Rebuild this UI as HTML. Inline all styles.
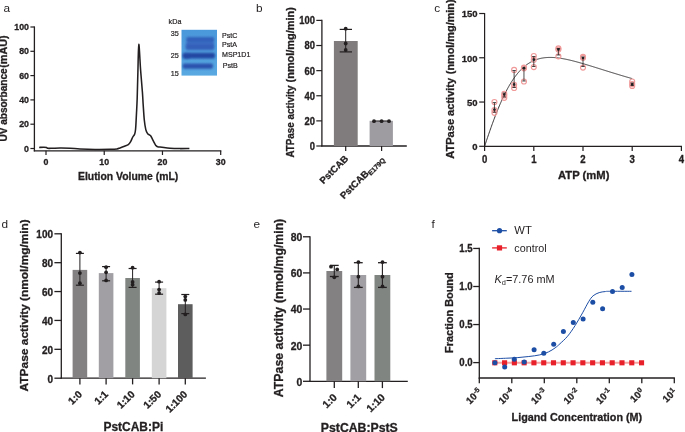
<!DOCTYPE html>
<html><head><meta charset="utf-8"><style>
html,body{margin:0;padding:0;background:#fff;}
svg{display:block;font-family:"Liberation Sans", sans-serif;filter:blur(0.3px);}
text[font-weight=bold]{stroke:#231f20;stroke-width:0.3px;}
</style></head><body>
<svg width="685" height="432" viewBox="0 0 685 432">
<rect width="685" height="432" fill="#fff"/>
<text x="3.60" y="12.30" font-size="11.8" text-anchor="start" font-weight="normal" fill="#231f20" >a</text>
<text x="256.00" y="12.20" font-size="11.8" text-anchor="start" font-weight="normal" fill="#231f20" >b</text>
<text x="434.30" y="12.30" font-size="11.8" text-anchor="start" font-weight="normal" fill="#231f20" >c</text>
<text x="1.40" y="228.30" font-size="11.8" text-anchor="start" font-weight="normal" fill="#231f20" >d</text>
<text x="253.40" y="228.30" font-size="11.8" text-anchor="start" font-weight="normal" fill="#231f20" >e</text>
<text x="431.50" y="228.00" font-size="11.8" text-anchor="start" font-weight="normal" fill="#231f20" >f</text>
<line x1="34.40" y1="26.40" x2="34.40" y2="151.40" stroke="#231f20" stroke-width="1.3" />
<line x1="33.80" y1="150.80" x2="221.30" y2="150.80" stroke="#231f20" stroke-width="1.3" />
<line x1="30.40" y1="148.50" x2="34.40" y2="148.50" stroke="#231f20" stroke-width="1.2" />
<text x="29.00" y="151.60" font-size="8.8" text-anchor="end" font-weight="bold" fill="#231f20" >0</text>
<line x1="30.40" y1="124.20" x2="34.40" y2="124.20" stroke="#231f20" stroke-width="1.2" />
<text x="29.00" y="127.30" font-size="8.8" text-anchor="end" font-weight="bold" fill="#231f20" >20</text>
<line x1="30.40" y1="99.90" x2="34.40" y2="99.90" stroke="#231f20" stroke-width="1.2" />
<text x="29.00" y="103.00" font-size="8.8" text-anchor="end" font-weight="bold" fill="#231f20" >40</text>
<line x1="30.40" y1="75.60" x2="34.40" y2="75.60" stroke="#231f20" stroke-width="1.2" />
<text x="29.00" y="78.70" font-size="8.8" text-anchor="end" font-weight="bold" fill="#231f20" >60</text>
<line x1="30.40" y1="51.30" x2="34.40" y2="51.30" stroke="#231f20" stroke-width="1.2" />
<text x="29.00" y="54.40" font-size="8.8" text-anchor="end" font-weight="bold" fill="#231f20" >80</text>
<line x1="30.40" y1="27.00" x2="34.40" y2="27.00" stroke="#231f20" stroke-width="1.2" />
<text x="29.00" y="30.10" font-size="8.8" text-anchor="end" font-weight="bold" fill="#231f20" >100</text>
<line x1="46.00" y1="150.80" x2="46.00" y2="155.00" stroke="#231f20" stroke-width="1.2" />
<text x="46.00" y="165.40" font-size="8.8" text-anchor="middle" font-weight="bold" fill="#231f20" >0</text>
<line x1="104.23" y1="150.80" x2="104.23" y2="155.00" stroke="#231f20" stroke-width="1.2" />
<text x="104.23" y="165.40" font-size="8.8" text-anchor="middle" font-weight="bold" fill="#231f20" >10</text>
<line x1="162.47" y1="150.80" x2="162.47" y2="155.00" stroke="#231f20" stroke-width="1.2" />
<text x="162.47" y="165.40" font-size="8.8" text-anchor="middle" font-weight="bold" fill="#231f20" >20</text>
<line x1="220.70" y1="150.80" x2="220.70" y2="155.00" stroke="#231f20" stroke-width="1.2" />
<text x="220.70" y="165.40" font-size="8.8" text-anchor="middle" font-weight="bold" fill="#231f20" >30</text>
<text x="78.00" y="180.40" font-size="10.4" font-weight="bold" fill="#231f20" textLength="100.20" lengthAdjust="spacingAndGlyphs">Elution Volume (mL)</text>
<text x="7.30" y="141.60" font-size="10.2" font-weight="bold" fill="#231f20" transform="rotate(-90 7.30 141.60)" textLength="73.20" lengthAdjust="spacingAndGlyphs">UV absorbance</text>
<text x="7.30" y="67.80" font-size="10.6" font-weight="bold" fill="#231f20" transform="rotate(-90 7.30 67.80)" textLength="32.40" lengthAdjust="spacingAndGlyphs">(mAU)</text>
<path d="M39.20,147.40 C40.00,147.38 42.77,147.27 44.00,147.30 C45.23,147.33 46.00,147.43 46.60,147.60 C47.20,147.77 46.70,148.18 47.60,148.30 C48.50,148.42 49.93,148.35 52.00,148.30 C54.07,148.25 57.00,148.02 60.00,148.00 C63.00,147.98 66.67,148.05 70.00,148.20 C73.33,148.35 75.83,148.70 80.00,148.90 C84.17,149.10 90.00,149.33 95.00,149.40 C100.00,149.47 106.33,149.38 110.00,149.30 C113.67,149.22 115.33,149.13 117.00,148.90 C118.67,148.67 118.75,148.35 120.00,147.90 C121.25,147.45 123.12,146.75 124.50,146.20 C125.88,145.65 127.30,145.32 128.30,144.60 C129.30,143.88 129.75,143.17 130.50,141.90 C131.25,140.63 132.12,138.27 132.80,137.00 C133.48,135.73 134.13,135.63 134.60,134.30 C135.07,132.97 135.28,132.55 135.60,129.00 C135.92,125.45 136.23,118.17 136.50,113.00 C136.77,107.83 136.97,104.83 137.20,98.00 C137.43,91.17 137.63,80.95 137.90,72.00 C138.17,63.05 138.35,44.63 138.80,44.30 C139.25,43.97 140.00,62.05 140.60,70.00 C141.20,77.95 141.97,86.17 142.40,92.00 C142.83,97.83 142.88,100.33 143.20,105.00 C143.52,109.67 143.87,115.90 144.30,120.00 C144.73,124.10 145.25,127.33 145.80,129.60 C146.35,131.87 147.02,132.73 147.60,133.60 C148.18,134.47 148.77,134.40 149.30,134.80 C149.83,135.20 150.30,135.33 150.80,136.00 C151.30,136.67 151.73,137.70 152.30,138.80 C152.87,139.90 153.62,141.50 154.20,142.60 C154.78,143.70 155.23,144.72 155.80,145.40 C156.37,146.08 156.57,146.38 157.60,146.70 C158.63,147.02 159.93,147.03 162.00,147.30 C164.07,147.57 167.00,148.08 170.00,148.30 C173.00,148.52 176.77,148.58 180.00,148.60 C183.23,148.62 187.83,148.43 189.40,148.40" fill="none" stroke="#231f20" stroke-width="1.55" stroke-linejoin="round"/>
<defs><filter id="bl" x="-20%" y="-80%" width="140%" height="260%"><feGaussianBlur stdDeviation="0.9"/></filter><clipPath id="gc"><rect x="181.5" y="29.8" width="35.5" height="45.8"/></clipPath></defs>
<defs><linearGradient id="gg" x1="0" y1="0" x2="0" y2="1"><stop offset="0" stop-color="#4a97da"/><stop offset="1" stop-color="#5aa9e2"/></linearGradient></defs>
<rect x="181.5" y="29.8" width="35.5" height="45.8" fill="url(#gg)"/>
<g filter="url(#bl)" clip-path="url(#gc)">
<rect x="186.0" y="41.30" width="28.30" height="4.0" rx="2" fill="#3f72c8"/>
<rect x="186.2" y="37.10" width="28.10" height="5.0" rx="2" fill="#3360ba"/>
<rect x="185.6" y="43.50" width="28.70" height="6.6" rx="2" fill="#3461ba"/>
<rect x="182.6" y="52.80" width="32.40" height="5.6" rx="2" fill="#2346a3"/>
<rect x="182.6" y="63.40" width="30.40" height="5.4" rx="2" fill="#2b53ad"/>
<ellipse cx="186.8" cy="55.9" rx="4.2" ry="3.1" fill="#2346a3"/>
</g>
<text x="178.80" y="35.50" font-size="7.2" text-anchor="end" font-weight="normal" fill="#231f20" stroke="#231f20" stroke-width="0.2">35</text>
<text x="178.80" y="58.40" font-size="7.2" text-anchor="end" font-weight="normal" fill="#231f20" stroke="#231f20" stroke-width="0.2">25</text>
<text x="178.80" y="75.50" font-size="7.2" text-anchor="end" font-weight="normal" fill="#231f20" stroke="#231f20" stroke-width="0.2">15</text>
<text x="168.60" y="23.60" font-size="7.2" text-anchor="start" font-weight="normal" fill="#231f20" stroke="#231f20" stroke-width="0.2">kDa</text>
<text x="222.00" y="37.90" font-size="7.1" text-anchor="start" font-weight="normal" fill="#231f20" stroke="#231f20" stroke-width="0.2">PstC</text>
<text x="222.00" y="46.50" font-size="7.1" text-anchor="start" font-weight="normal" fill="#231f20" stroke="#231f20" stroke-width="0.2">PstA</text>
<text x="222.00" y="57.00" font-size="7.1" text-anchor="start" font-weight="normal" fill="#231f20" stroke="#231f20" stroke-width="0.2">MSP1D1</text>
<text x="222.80" y="67.90" font-size="7.1" text-anchor="start" font-weight="normal" fill="#231f20" stroke="#231f20" stroke-width="0.2">PstB</text>
<line x1="321.90" y1="19.80" x2="321.90" y2="146.60" stroke="#231f20" stroke-width="1.3" />
<line x1="321.30" y1="146.00" x2="406.80" y2="146.00" stroke="#231f20" stroke-width="1.3" />
<rect x="333.90" y="41.00" width="23.80" height="105.00" fill="#807c7d"/>
<rect x="369.60" y="120.80" width="23.30" height="25.20" fill="#9e9ca1"/>
<line x1="316.30" y1="146.00" x2="321.90" y2="146.00" stroke="#231f20" stroke-width="1.2" />
<text x="0" y="0" font-size="9.4" text-anchor="end" font-weight="bold" fill="#231f20" transform="translate(315.00 149.90) scale(1 1.1)" >0</text>
<line x1="316.30" y1="120.88" x2="321.90" y2="120.88" stroke="#231f20" stroke-width="1.2" />
<text x="0" y="0" font-size="9.4" text-anchor="end" font-weight="bold" fill="#231f20" transform="translate(315.00 124.78) scale(1 1.1)" >20</text>
<line x1="316.30" y1="95.76" x2="321.90" y2="95.76" stroke="#231f20" stroke-width="1.2" />
<text x="0" y="0" font-size="9.4" text-anchor="end" font-weight="bold" fill="#231f20" transform="translate(315.00 99.66) scale(1 1.1)" >40</text>
<line x1="316.30" y1="70.64" x2="321.90" y2="70.64" stroke="#231f20" stroke-width="1.2" />
<text x="0" y="0" font-size="9.4" text-anchor="end" font-weight="bold" fill="#231f20" transform="translate(315.00 74.54) scale(1 1.1)" >60</text>
<line x1="316.30" y1="45.52" x2="321.90" y2="45.52" stroke="#231f20" stroke-width="1.2" />
<text x="0" y="0" font-size="9.4" text-anchor="end" font-weight="bold" fill="#231f20" transform="translate(315.00 49.42) scale(1 1.1)" >80</text>
<line x1="316.30" y1="20.40" x2="321.90" y2="20.40" stroke="#231f20" stroke-width="1.2" />
<text x="0" y="0" font-size="9.4" text-anchor="end" font-weight="bold" fill="#231f20" transform="translate(315.00 24.30) scale(1 1.1)" >100</text>
<line x1="345.70" y1="146.00" x2="345.70" y2="151.00" stroke="#231f20" stroke-width="1.2" />
<line x1="381.60" y1="146.00" x2="381.60" y2="151.00" stroke="#231f20" stroke-width="1.2" />
<line x1="345.70" y1="29.40" x2="345.70" y2="51.90" stroke="#231f20" stroke-width="1.0" />
<line x1="339.70" y1="29.40" x2="352.00" y2="29.40" stroke="#231f20" stroke-width="1.2" />
<line x1="339.70" y1="51.90" x2="352.00" y2="51.90" stroke="#231f20" stroke-width="1.2" />
<circle cx="345.70" cy="28.70" r="1.9" fill="#231f20" stroke="none" stroke-width="0"/>
<circle cx="345.70" cy="43.50" r="1.9" fill="#231f20" stroke="none" stroke-width="0"/>
<circle cx="345.70" cy="50.00" r="1.9" fill="#231f20" stroke="none" stroke-width="0"/>
<line x1="374.00" y1="121.00" x2="389.00" y2="121.00" stroke="#231f20" stroke-width="1.0" />
<circle cx="374.00" cy="121.20" r="1.9" fill="#231f20" stroke="none" stroke-width="0"/>
<circle cx="381.60" cy="121.20" r="1.9" fill="#231f20" stroke="none" stroke-width="0"/>
<circle cx="389.00" cy="121.20" r="1.9" fill="#231f20" stroke="none" stroke-width="0"/>
<text x="293.60" y="157.60" font-size="10.0" font-weight="bold" fill="#231f20" transform="rotate(-90 293.60 157.60)" textLength="72.00" lengthAdjust="spacingAndGlyphs">ATPase activity</text>
<text x="293.60" y="82.40" font-size="10.6" font-weight="bold" fill="#231f20" transform="rotate(-90 293.60 82.40)" textLength="75.20" lengthAdjust="spacingAndGlyphs">(nmol/mg/min)</text>
<text x="348.80" y="159.30" font-size="9.6" text-anchor="end" font-weight="bold" fill="#231f20" transform="rotate(-45 348.80 159.30)" >PstCAB</text>
<text x="384.30" y="159.30" font-size="9.6" text-anchor="end" font-weight="bold" fill="#231f20" transform="rotate(-45 384.30 159.30)" >PstCAB<tspan font-size="6.8" dy="2">E179Q</tspan></text>
<line x1="484.60" y1="12.91" x2="484.60" y2="146.90" stroke="#231f20" stroke-width="1.2" />
<line x1="484.00" y1="146.30" x2="682.00" y2="146.30" stroke="#231f20" stroke-width="1.2" />
<line x1="479.20" y1="146.30" x2="484.60" y2="146.30" stroke="#231f20" stroke-width="1.2" />
<text x="477.60" y="150.10" font-size="9.5" text-anchor="end" font-weight="bold" fill="#231f20" >0</text>
<line x1="479.20" y1="102.04" x2="484.60" y2="102.04" stroke="#231f20" stroke-width="1.2" />
<text x="477.60" y="105.84" font-size="9.5" text-anchor="end" font-weight="bold" fill="#231f20" >50</text>
<line x1="479.20" y1="57.77" x2="484.60" y2="57.77" stroke="#231f20" stroke-width="1.2" />
<text x="477.60" y="61.57" font-size="9.5" text-anchor="end" font-weight="bold" fill="#231f20" >100</text>
<line x1="479.20" y1="13.51" x2="484.60" y2="13.51" stroke="#231f20" stroke-width="1.2" />
<text x="477.60" y="17.31" font-size="9.5" text-anchor="end" font-weight="bold" fill="#231f20" >150</text>
<line x1="484.60" y1="146.30" x2="484.60" y2="151.10" stroke="#231f20" stroke-width="1.2" />
<text x="0" y="0" font-size="9.6" text-anchor="middle" font-weight="bold" fill="#231f20" transform="translate(484.60 163.00) scale(1 1.12)" >0</text>
<line x1="533.80" y1="146.30" x2="533.80" y2="151.10" stroke="#231f20" stroke-width="1.2" />
<text x="0" y="0" font-size="9.6" text-anchor="middle" font-weight="bold" fill="#231f20" transform="translate(533.80 163.00) scale(1 1.12)" >1</text>
<line x1="583.00" y1="146.30" x2="583.00" y2="151.10" stroke="#231f20" stroke-width="1.2" />
<text x="0" y="0" font-size="9.6" text-anchor="middle" font-weight="bold" fill="#231f20" transform="translate(583.00 163.00) scale(1 1.12)" >2</text>
<line x1="632.20" y1="146.30" x2="632.20" y2="151.10" stroke="#231f20" stroke-width="1.2" />
<text x="0" y="0" font-size="9.6" text-anchor="middle" font-weight="bold" fill="#231f20" transform="translate(632.20 163.00) scale(1 1.12)" >3</text>
<line x1="681.40" y1="146.30" x2="681.40" y2="151.10" stroke="#231f20" stroke-width="1.2" />
<text x="0" y="0" font-size="9.6" text-anchor="middle" font-weight="bold" fill="#231f20" transform="translate(681.40 163.00) scale(1 1.12)" >4</text>
<text x="558.00" y="179.30" font-size="10.0" font-weight="bold" fill="#231f20" textLength="51.40" lengthAdjust="spacingAndGlyphs">ATP (mM)</text>
<text x="454.00" y="158.70" font-size="10.5" font-weight="bold" fill="#231f20" transform="rotate(-90 454.00 158.70)" textLength="80.90" lengthAdjust="spacingAndGlyphs">ATPase activity</text>
<text x="454.00" y="74.20" font-size="10.8" font-weight="bold" fill="#231f20" transform="rotate(-90 454.00 74.20)" textLength="74.80" lengthAdjust="spacingAndGlyphs">(nmol/mg/min)</text>
<path d="M484.60,146.30 L485.09,144.82 L485.58,143.34 L486.08,141.87 L486.57,140.40 L487.06,138.94 L487.55,137.49 L488.04,136.05 L488.54,134.62 L489.03,133.19 L489.52,131.77 L490.01,130.36 L490.50,128.97 L491.00,127.58 L491.49,126.20 L491.98,124.83 L492.47,123.48 L492.96,122.14 L493.46,120.80 L493.95,119.48 L494.44,118.18 L494.93,116.88 L495.42,115.60 L495.92,114.33 L496.41,113.08 L496.90,111.84 L497.39,110.61 L497.88,109.40 L498.38,108.20 L498.87,107.01 L499.36,105.84 L499.85,104.69 L500.34,103.55 L500.84,102.43 L501.33,101.32 L501.82,100.22 L502.31,99.15 L502.80,98.08 L503.30,97.04 L503.79,96.00 L504.28,94.99 L504.77,93.99 L505.26,93.01 L505.76,92.04 L506.25,91.08 L506.74,90.15 L507.23,89.23 L507.72,88.32 L508.22,87.43 L508.71,86.56 L509.20,85.70 L509.69,84.86 L510.18,84.04 L510.68,83.23 L511.17,82.43 L511.66,81.65 L512.15,80.89 L512.64,80.14 L513.14,79.41 L513.63,78.69 L514.12,77.99 L514.61,77.30 L515.10,76.63 L515.60,75.97 L516.09,75.32 L516.58,74.70 L517.07,74.08 L517.56,73.48 L518.06,72.89 L518.55,72.32 L519.04,71.76 L519.53,71.21 L520.02,70.68 L520.52,70.16 L521.01,69.66 L521.50,69.17 L521.99,68.69 L522.48,68.22 L522.98,67.76 L523.47,67.32 L523.96,66.89 L524.45,66.47 L524.94,66.07 L525.44,65.67 L525.93,65.29 L526.42,64.92 L526.91,64.56 L527.40,64.21 L527.90,63.87 L528.39,63.55 L528.88,63.23 L529.37,62.92 L529.86,62.63 L530.36,62.34 L530.85,62.06 L531.34,61.80 L531.83,61.54 L532.32,61.29 L532.82,61.06 L533.31,60.83 L533.80,60.61 L534.29,60.40 L534.78,60.19 L535.28,60.00 L535.77,59.81 L536.26,59.64 L536.75,59.47 L537.24,59.30 L537.74,59.15 L538.23,59.00 L538.72,58.87 L539.21,58.73 L539.70,58.61 L540.20,58.49 L540.69,58.38 L541.18,58.28 L541.67,58.18 L542.16,58.09 L542.66,58.01 L543.15,57.93 L543.64,57.86 L544.13,57.79 L544.62,57.73 L545.12,57.68 L545.61,57.63 L546.10,57.59 L546.59,57.55 L547.08,57.52 L547.58,57.49 L548.07,57.47 L548.56,57.45 L549.05,57.44 L549.54,57.43 L550.04,57.43 L550.53,57.43 L551.02,57.43 L551.51,57.44 L552.00,57.46 L552.50,57.48 L552.99,57.50 L553.48,57.53 L553.97,57.56 L554.46,57.59 L554.96,57.63 L555.45,57.67 L555.94,57.71 L556.43,57.76 L556.92,57.81 L557.42,57.87 L557.91,57.93 L558.40,57.99 L558.89,58.05 L559.38,58.12 L559.88,58.19 L560.37,58.26 L560.86,58.34 L561.35,58.42 L561.84,58.50 L562.34,58.58 L562.83,58.67 L563.32,58.75 L563.81,58.84 L564.30,58.94 L564.80,59.03 L565.29,59.13 L565.78,59.23 L566.27,59.33 L566.76,59.43 L567.26,59.54 L567.75,59.65 L568.24,59.75 L568.73,59.87 L569.22,59.98 L569.72,60.09 L570.21,60.21 L570.70,60.33 L571.19,60.44 L571.68,60.56 L572.18,60.69 L572.67,60.81 L573.16,60.93 L573.65,61.06 L574.14,61.19 L574.64,61.32 L575.13,61.44 L575.62,61.58 L576.11,61.71 L576.60,61.84 L577.10,61.97 L577.59,62.11 L578.08,62.24 L578.57,62.38 L579.06,62.52 L579.56,62.66 L580.05,62.80 L580.54,62.94 L581.03,63.08 L581.52,63.22 L582.02,63.36 L582.51,63.51 L583.00,63.65 L583.49,63.80 L583.98,63.94 L584.48,64.09 L584.97,64.23 L585.46,64.38 L585.95,64.53 L586.44,64.68 L586.94,64.82 L587.43,64.97 L587.92,65.12 L588.41,65.27 L588.90,65.42 L589.40,65.57 L589.89,65.72 L590.38,65.87 L590.87,66.03 L591.36,66.18 L591.86,66.33 L592.35,66.48 L592.84,66.63 L593.33,66.79 L593.82,66.94 L594.32,67.09 L594.81,67.25 L595.30,67.40 L595.79,67.55 L596.28,67.71 L596.78,67.86 L597.27,68.01 L597.76,68.17 L598.25,68.32 L598.74,68.48 L599.24,68.63 L599.73,68.79 L600.22,68.94 L600.71,69.09 L601.20,69.25 L601.70,69.40 L602.19,69.56 L602.68,69.71 L603.17,69.86 L603.66,70.02 L604.16,70.17 L604.65,70.33 L605.14,70.48 L605.63,70.63 L606.12,70.79 L606.62,70.94 L607.11,71.09 L607.60,71.25 L608.09,71.40 L608.58,71.55 L609.08,71.71 L609.57,71.86 L610.06,72.01 L610.55,72.16 L611.04,72.32 L611.54,72.47 L612.03,72.62 L612.52,72.77 L613.01,72.92 L613.50,73.07 L614.00,73.22 L614.49,73.37 L614.98,73.52 L615.47,73.67 L615.96,73.82 L616.46,73.97 L616.95,74.12 L617.44,74.27 L617.93,74.42 L618.42,74.57 L618.92,74.72 L619.41,74.87 L619.90,75.01 L620.39,75.16 L620.88,75.31 L621.38,75.46 L621.87,75.60 L622.36,75.75 L622.85,75.90 L623.34,76.04 L623.84,76.19 L624.33,76.33 L624.82,76.48 L625.31,76.62 L625.80,76.76 L626.30,76.91 L626.79,77.05 L627.28,77.20 L627.77,77.34 L628.26,77.48 L628.76,77.62 L629.25,77.76 L629.74,77.91 L630.23,78.05 L630.72,78.19 L631.22,78.33 L631.71,78.47 L632.20,78.61" fill="none" stroke="#231f20" stroke-width="0.9"/>
<circle cx="494.44" cy="102.00" r="2.5" fill="none" stroke="#f09a9a" stroke-width="1.15"/>
<circle cx="494.44" cy="110.00" r="2.5" fill="none" stroke="#f09a9a" stroke-width="1.15"/>
<circle cx="494.44" cy="112.80" r="2.5" fill="none" stroke="#f09a9a" stroke-width="1.15"/>
<circle cx="504.28" cy="93.70" r="2.5" fill="none" stroke="#f09a9a" stroke-width="1.15"/>
<circle cx="504.28" cy="97.80" r="2.5" fill="none" stroke="#f09a9a" stroke-width="1.15"/>
<circle cx="504.28" cy="95.50" r="2.5" fill="none" stroke="#f09a9a" stroke-width="1.15"/>
<circle cx="514.12" cy="69.90" r="2.5" fill="none" stroke="#f09a9a" stroke-width="1.15"/>
<circle cx="514.12" cy="84.70" r="2.5" fill="none" stroke="#f09a9a" stroke-width="1.15"/>
<circle cx="514.12" cy="88.00" r="2.5" fill="none" stroke="#f09a9a" stroke-width="1.15"/>
<circle cx="523.96" cy="67.60" r="2.5" fill="none" stroke="#f09a9a" stroke-width="1.15"/>
<circle cx="523.96" cy="68.30" r="2.5" fill="none" stroke="#f09a9a" stroke-width="1.15"/>
<circle cx="523.96" cy="81.50" r="2.5" fill="none" stroke="#f09a9a" stroke-width="1.15"/>
<circle cx="533.80" cy="56.00" r="2.5" fill="none" stroke="#f09a9a" stroke-width="1.15"/>
<circle cx="533.80" cy="59.70" r="2.5" fill="none" stroke="#f09a9a" stroke-width="1.15"/>
<circle cx="533.80" cy="67.10" r="2.5" fill="none" stroke="#f09a9a" stroke-width="1.15"/>
<circle cx="558.40" cy="48.30" r="2.5" fill="none" stroke="#f09a9a" stroke-width="1.15"/>
<circle cx="558.40" cy="49.60" r="2.5" fill="none" stroke="#f09a9a" stroke-width="1.15"/>
<circle cx="558.40" cy="56.30" r="2.5" fill="none" stroke="#f09a9a" stroke-width="1.15"/>
<circle cx="583.00" cy="56.90" r="2.5" fill="none" stroke="#f09a9a" stroke-width="1.15"/>
<circle cx="583.00" cy="57.80" r="2.5" fill="none" stroke="#f09a9a" stroke-width="1.15"/>
<circle cx="583.00" cy="67.60" r="2.5" fill="none" stroke="#f09a9a" stroke-width="1.15"/>
<circle cx="632.20" cy="81.50" r="2.5" fill="none" stroke="#f09a9a" stroke-width="1.15"/>
<circle cx="632.20" cy="84.10" r="2.5" fill="none" stroke="#f09a9a" stroke-width="1.15"/>
<circle cx="632.20" cy="85.90" r="2.5" fill="none" stroke="#f09a9a" stroke-width="1.15"/>
<line x1="494.44" y1="102.60" x2="494.44" y2="112.20" stroke="#231f20" stroke-width="0.8" />
<line x1="492.74" y1="102.60" x2="496.14" y2="102.60" stroke="#231f20" stroke-width="0.8" />
<line x1="492.74" y1="112.20" x2="496.14" y2="112.20" stroke="#231f20" stroke-width="0.8" />
<circle cx="494.44" cy="109.50" r="1.35" fill="#231f20" stroke="none" stroke-width="0"/>
<line x1="504.28" y1="93.00" x2="504.28" y2="97.00" stroke="#231f20" stroke-width="0.8" />
<line x1="502.58" y1="93.00" x2="505.98" y2="93.00" stroke="#231f20" stroke-width="0.8" />
<line x1="502.58" y1="97.00" x2="505.98" y2="97.00" stroke="#231f20" stroke-width="0.8" />
<circle cx="504.28" cy="94.50" r="1.35" fill="#231f20" stroke="none" stroke-width="0"/>
<line x1="514.12" y1="70.50" x2="514.12" y2="87.50" stroke="#231f20" stroke-width="0.8" />
<line x1="512.42" y1="70.50" x2="515.82" y2="70.50" stroke="#231f20" stroke-width="0.8" />
<line x1="512.42" y1="87.50" x2="515.82" y2="87.50" stroke="#231f20" stroke-width="0.8" />
<circle cx="514.12" cy="84.40" r="1.35" fill="#231f20" stroke="none" stroke-width="0"/>
<line x1="523.96" y1="68.00" x2="523.96" y2="81.00" stroke="#231f20" stroke-width="0.8" />
<line x1="522.26" y1="68.00" x2="525.66" y2="68.00" stroke="#231f20" stroke-width="0.8" />
<line x1="522.26" y1="81.00" x2="525.66" y2="81.00" stroke="#231f20" stroke-width="0.8" />
<circle cx="523.96" cy="68.20" r="1.35" fill="#231f20" stroke="none" stroke-width="0"/>
<line x1="533.80" y1="56.50" x2="533.80" y2="66.50" stroke="#231f20" stroke-width="0.8" />
<line x1="532.10" y1="56.50" x2="535.50" y2="56.50" stroke="#231f20" stroke-width="0.8" />
<line x1="532.10" y1="66.50" x2="535.50" y2="66.50" stroke="#231f20" stroke-width="0.8" />
<circle cx="533.80" cy="59.60" r="1.35" fill="#231f20" stroke="none" stroke-width="0"/>
<line x1="558.40" y1="48.50" x2="558.40" y2="55.00" stroke="#231f20" stroke-width="0.8" />
<line x1="556.70" y1="48.50" x2="560.10" y2="48.50" stroke="#231f20" stroke-width="0.8" />
<line x1="556.70" y1="55.00" x2="560.10" y2="55.00" stroke="#231f20" stroke-width="0.8" />
<circle cx="558.40" cy="49.40" r="1.35" fill="#231f20" stroke="none" stroke-width="0"/>
<line x1="583.00" y1="57.00" x2="583.00" y2="66.50" stroke="#231f20" stroke-width="0.8" />
<line x1="581.30" y1="57.00" x2="584.70" y2="57.00" stroke="#231f20" stroke-width="0.8" />
<line x1="581.30" y1="66.50" x2="584.70" y2="66.50" stroke="#231f20" stroke-width="0.8" />
<circle cx="583.00" cy="58.00" r="1.35" fill="#231f20" stroke="none" stroke-width="0"/>
<line x1="632.20" y1="83.00" x2="632.20" y2="85.50" stroke="#231f20" stroke-width="0.8" />
<line x1="630.50" y1="83.00" x2="633.90" y2="83.00" stroke="#231f20" stroke-width="0.8" />
<line x1="630.50" y1="85.50" x2="633.90" y2="85.50" stroke="#231f20" stroke-width="0.8" />
<circle cx="632.20" cy="84.40" r="1.35" fill="#231f20" stroke="none" stroke-width="0"/>
<line x1="61.30" y1="233.20" x2="61.30" y2="378.80" stroke="#231f20" stroke-width="1.3" />
<line x1="60.70" y1="378.20" x2="205.90" y2="378.20" stroke="#231f20" stroke-width="1.3" />
<rect x="72.60" y="269.90" width="14.60" height="108.30" fill="#848182"/>
<line x1="79.90" y1="253.40" x2="79.90" y2="285.20" stroke="#231f20" stroke-width="1.0" />
<line x1="75.90" y1="253.40" x2="83.90" y2="253.40" stroke="#231f20" stroke-width="1.2" />
<line x1="75.90" y1="285.20" x2="83.90" y2="285.20" stroke="#231f20" stroke-width="1.2" />
<circle cx="79.90" cy="252.60" r="1.9" fill="#231f20" stroke="none" stroke-width="0"/>
<circle cx="79.90" cy="273.10" r="1.9" fill="#231f20" stroke="none" stroke-width="0"/>
<circle cx="79.90" cy="283.20" r="1.9" fill="#231f20" stroke="none" stroke-width="0"/>
<line x1="79.90" y1="378.20" x2="79.90" y2="384.40" stroke="#231f20" stroke-width="1.3" />
<rect x="98.80" y="273.10" width="14.60" height="105.10" fill="#a19fa4"/>
<line x1="106.10" y1="266.60" x2="106.10" y2="280.80" stroke="#231f20" stroke-width="1.0" />
<line x1="102.10" y1="266.60" x2="110.10" y2="266.60" stroke="#231f20" stroke-width="1.2" />
<line x1="102.10" y1="280.80" x2="110.10" y2="280.80" stroke="#231f20" stroke-width="1.2" />
<circle cx="106.10" cy="267.20" r="1.9" fill="#231f20" stroke="none" stroke-width="0"/>
<circle cx="106.10" cy="272.30" r="1.9" fill="#231f20" stroke="none" stroke-width="0"/>
<circle cx="106.10" cy="280.40" r="1.9" fill="#231f20" stroke="none" stroke-width="0"/>
<line x1="106.10" y1="378.20" x2="106.10" y2="384.40" stroke="#231f20" stroke-width="1.3" />
<rect x="125.30" y="278.00" width="14.60" height="100.20" fill="#818582"/>
<line x1="132.60" y1="268.50" x2="132.60" y2="287.40" stroke="#231f20" stroke-width="1.0" />
<line x1="128.60" y1="268.50" x2="136.60" y2="268.50" stroke="#231f20" stroke-width="1.2" />
<line x1="128.60" y1="287.40" x2="136.60" y2="287.40" stroke="#231f20" stroke-width="1.2" />
<circle cx="132.60" cy="267.70" r="1.9" fill="#231f20" stroke="none" stroke-width="0"/>
<circle cx="132.60" cy="281.90" r="1.9" fill="#231f20" stroke="none" stroke-width="0"/>
<circle cx="132.60" cy="284.70" r="1.9" fill="#231f20" stroke="none" stroke-width="0"/>
<line x1="132.60" y1="378.20" x2="132.60" y2="384.40" stroke="#231f20" stroke-width="1.3" />
<rect x="151.80" y="288.20" width="14.60" height="90.00" fill="#d5d5d5"/>
<line x1="159.10" y1="282.10" x2="159.10" y2="294.20" stroke="#231f20" stroke-width="1.0" />
<line x1="155.10" y1="282.10" x2="163.10" y2="282.10" stroke="#231f20" stroke-width="1.2" />
<line x1="155.10" y1="294.20" x2="163.10" y2="294.20" stroke="#231f20" stroke-width="1.2" />
<circle cx="159.10" cy="281.70" r="1.9" fill="#231f20" stroke="none" stroke-width="0"/>
<circle cx="159.10" cy="289.60" r="1.9" fill="#231f20" stroke="none" stroke-width="0"/>
<circle cx="159.10" cy="293.10" r="1.9" fill="#231f20" stroke="none" stroke-width="0"/>
<line x1="159.10" y1="378.20" x2="159.10" y2="384.40" stroke="#231f20" stroke-width="1.3" />
<rect x="178.00" y="304.20" width="14.60" height="74.00" fill="#5e5d5d"/>
<line x1="185.30" y1="294.50" x2="185.30" y2="313.60" stroke="#231f20" stroke-width="1.0" />
<line x1="181.30" y1="294.50" x2="189.30" y2="294.50" stroke="#231f20" stroke-width="1.2" />
<line x1="181.30" y1="313.60" x2="189.30" y2="313.60" stroke="#231f20" stroke-width="1.2" />
<circle cx="185.30" cy="296.60" r="1.9" fill="#231f20" stroke="none" stroke-width="0"/>
<circle cx="185.30" cy="299.90" r="1.9" fill="#231f20" stroke="none" stroke-width="0"/>
<circle cx="185.30" cy="314.40" r="1.9" fill="#231f20" stroke="none" stroke-width="0"/>
<line x1="185.30" y1="378.20" x2="185.30" y2="384.40" stroke="#231f20" stroke-width="1.3" />
<line x1="54.40" y1="378.20" x2="61.30" y2="378.20" stroke="#231f20" stroke-width="1.3" />
<text x="0" y="0" font-size="10.0" text-anchor="end" font-weight="bold" fill="#231f20" transform="translate(53.00 382.60) scale(1 1.08)" >0</text>
<line x1="54.40" y1="349.32" x2="61.30" y2="349.32" stroke="#231f20" stroke-width="1.3" />
<text x="0" y="0" font-size="10.0" text-anchor="end" font-weight="bold" fill="#231f20" transform="translate(53.00 353.72) scale(1 1.08)" >20</text>
<line x1="54.40" y1="320.44" x2="61.30" y2="320.44" stroke="#231f20" stroke-width="1.3" />
<text x="0" y="0" font-size="10.0" text-anchor="end" font-weight="bold" fill="#231f20" transform="translate(53.00 324.84) scale(1 1.08)" >40</text>
<line x1="54.40" y1="291.56" x2="61.30" y2="291.56" stroke="#231f20" stroke-width="1.3" />
<text x="0" y="0" font-size="10.0" text-anchor="end" font-weight="bold" fill="#231f20" transform="translate(53.00 295.96) scale(1 1.08)" >60</text>
<line x1="54.40" y1="262.68" x2="61.30" y2="262.68" stroke="#231f20" stroke-width="1.3" />
<text x="0" y="0" font-size="10.0" text-anchor="end" font-weight="bold" fill="#231f20" transform="translate(53.00 267.08) scale(1 1.08)" >80</text>
<line x1="54.40" y1="233.80" x2="61.30" y2="233.80" stroke="#231f20" stroke-width="1.3" />
<text x="0" y="0" font-size="10.0" text-anchor="end" font-weight="bold" fill="#231f20" transform="translate(53.00 238.20) scale(1 1.08)" >100</text>
<text x="82.70" y="394.90" font-size="10.2" text-anchor="end" font-weight="bold" fill="#231f20" transform="rotate(-45 82.70 394.90)" >1:0</text>
<text x="108.90" y="394.90" font-size="10.2" text-anchor="end" font-weight="bold" fill="#231f20" transform="rotate(-45 108.90 394.90)" >1:1</text>
<text x="135.40" y="394.90" font-size="10.2" text-anchor="end" font-weight="bold" fill="#231f20" transform="rotate(-45 135.40 394.90)" >1:10</text>
<text x="161.90" y="394.90" font-size="10.2" text-anchor="end" font-weight="bold" fill="#231f20" transform="rotate(-45 161.90 394.90)" >1:50</text>
<text x="188.10" y="394.90" font-size="10.2" text-anchor="end" font-weight="bold" fill="#231f20" transform="rotate(-45 188.10 394.90)" >1:100</text>
<text x="103.40" y="430.90" font-size="12.1" font-weight="bold" fill="#231f20" textLength="59.90" lengthAdjust="spacingAndGlyphs">PstCAB:Pi</text>
<text x="28.40" y="391.50" font-size="11.6" font-weight="bold" fill="#231f20" transform="rotate(-90 28.40 391.50)" textLength="87.50" lengthAdjust="spacingAndGlyphs">ATPase activity</text>
<text x="28.40" y="300.90" font-size="11.6" font-weight="bold" fill="#231f20" transform="rotate(-90 28.40 300.90)" textLength="81.70" lengthAdjust="spacingAndGlyphs">(nmol/mg/min)</text>
<line x1="310.00" y1="236.18" x2="310.00" y2="381.90" stroke="#231f20" stroke-width="1.3" />
<line x1="309.40" y1="381.30" x2="407.80" y2="381.30" stroke="#231f20" stroke-width="1.3" />
<rect x="326.40" y="271.00" width="15.80" height="110.30" fill="#848182"/>
<line x1="334.30" y1="265.40" x2="334.30" y2="276.50" stroke="#231f20" stroke-width="1.1" />
<line x1="329.90" y1="265.40" x2="338.70" y2="265.40" stroke="#231f20" stroke-width="1.3" />
<line x1="329.90" y1="276.50" x2="338.70" y2="276.50" stroke="#231f20" stroke-width="1.3" />
<circle cx="331.00" cy="266.70" r="1.9" fill="#231f20" stroke="none" stroke-width="0"/>
<circle cx="337.20" cy="269.40" r="1.9" fill="#231f20" stroke="none" stroke-width="0"/>
<circle cx="334.30" cy="277.30" r="1.9" fill="#231f20" stroke="none" stroke-width="0"/>
<line x1="334.30" y1="381.30" x2="334.30" y2="388.10" stroke="#231f20" stroke-width="1.3" />
<rect x="350.40" y="275.00" width="15.80" height="106.30" fill="#a19fa4"/>
<line x1="358.30" y1="262.70" x2="358.30" y2="287.40" stroke="#231f20" stroke-width="1.1" />
<line x1="353.90" y1="262.70" x2="362.70" y2="262.70" stroke="#231f20" stroke-width="1.3" />
<line x1="353.90" y1="287.40" x2="362.70" y2="287.40" stroke="#231f20" stroke-width="1.3" />
<circle cx="358.40" cy="262.10" r="1.9" fill="#231f20" stroke="none" stroke-width="0"/>
<circle cx="358.40" cy="276.70" r="1.9" fill="#231f20" stroke="none" stroke-width="0"/>
<circle cx="358.40" cy="286.40" r="1.9" fill="#231f20" stroke="none" stroke-width="0"/>
<line x1="358.30" y1="381.30" x2="358.30" y2="388.10" stroke="#231f20" stroke-width="1.3" />
<rect x="374.50" y="275.00" width="15.80" height="106.30" fill="#818582"/>
<line x1="382.40" y1="262.70" x2="382.40" y2="287.40" stroke="#231f20" stroke-width="1.1" />
<line x1="378.00" y1="262.70" x2="386.80" y2="262.70" stroke="#231f20" stroke-width="1.3" />
<line x1="378.00" y1="287.40" x2="386.80" y2="287.40" stroke="#231f20" stroke-width="1.3" />
<circle cx="382.50" cy="262.10" r="1.9" fill="#231f20" stroke="none" stroke-width="0"/>
<circle cx="382.50" cy="276.70" r="1.9" fill="#231f20" stroke="none" stroke-width="0"/>
<circle cx="382.50" cy="286.40" r="1.9" fill="#231f20" stroke="none" stroke-width="0"/>
<line x1="382.40" y1="381.30" x2="382.40" y2="388.10" stroke="#231f20" stroke-width="1.3" />
<line x1="303.00" y1="381.30" x2="310.00" y2="381.30" stroke="#231f20" stroke-width="1.3" />
<text x="0" y="0" font-size="10.4" text-anchor="end" font-weight="bold" fill="#231f20" transform="translate(302.20 385.70) scale(1 1.08)" >0</text>
<line x1="303.00" y1="345.17" x2="310.00" y2="345.17" stroke="#231f20" stroke-width="1.3" />
<text x="0" y="0" font-size="10.4" text-anchor="end" font-weight="bold" fill="#231f20" transform="translate(302.20 349.57) scale(1 1.08)" >20</text>
<line x1="303.00" y1="309.04" x2="310.00" y2="309.04" stroke="#231f20" stroke-width="1.3" />
<text x="0" y="0" font-size="10.4" text-anchor="end" font-weight="bold" fill="#231f20" transform="translate(302.20 313.44) scale(1 1.08)" >40</text>
<line x1="303.00" y1="272.91" x2="310.00" y2="272.91" stroke="#231f20" stroke-width="1.3" />
<text x="0" y="0" font-size="10.4" text-anchor="end" font-weight="bold" fill="#231f20" transform="translate(302.20 277.31) scale(1 1.08)" >60</text>
<line x1="303.00" y1="236.78" x2="310.00" y2="236.78" stroke="#231f20" stroke-width="1.3" />
<text x="0" y="0" font-size="10.4" text-anchor="end" font-weight="bold" fill="#231f20" transform="translate(302.20 241.18) scale(1 1.08)" >80</text>
<text x="337.60" y="398.00" font-size="10.5" text-anchor="end" font-weight="bold" fill="#231f20" transform="rotate(-45 337.60 398.00)" >1:0</text>
<text x="361.60" y="398.00" font-size="10.5" text-anchor="end" font-weight="bold" fill="#231f20" transform="rotate(-45 361.60 398.00)" >1:1</text>
<text x="385.70" y="398.00" font-size="10.5" text-anchor="end" font-weight="bold" fill="#231f20" transform="rotate(-45 385.70 398.00)" >1:10</text>
<text x="320.80" y="431.90" font-size="12.0" font-weight="bold" fill="#231f20" textLength="77.00" lengthAdjust="spacingAndGlyphs">PstCAB:PstS</text>
<text x="283.30" y="397.30" font-size="12.0" font-weight="bold" fill="#231f20" transform="rotate(-90 283.30 397.30)" textLength="90.50" lengthAdjust="spacingAndGlyphs">ATPase activity</text>
<text x="283.30" y="303.10" font-size="12.0" font-weight="bold" fill="#231f20" transform="rotate(-90 283.30 303.10)" textLength="84.30" lengthAdjust="spacingAndGlyphs">(nmol/mg/min)</text>
<line x1="479.30" y1="247.85" x2="479.30" y2="378.60" stroke="#231f20" stroke-width="1.3" />
<line x1="478.70" y1="378.00" x2="674.90" y2="378.00" stroke="#231f20" stroke-width="1.3" />
<line x1="473.20" y1="362.60" x2="479.30" y2="362.60" stroke="#231f20" stroke-width="1.3" />
<text x="0" y="0" font-size="9.6" text-anchor="end" font-weight="bold" fill="#231f20" transform="translate(472.70 366.20) scale(1 1.12)" >0.0</text>
<line x1="473.20" y1="324.55" x2="479.30" y2="324.55" stroke="#231f20" stroke-width="1.3" />
<text x="0" y="0" font-size="9.6" text-anchor="end" font-weight="bold" fill="#231f20" transform="translate(472.70 328.15) scale(1 1.12)" >0.5</text>
<line x1="473.20" y1="286.50" x2="479.30" y2="286.50" stroke="#231f20" stroke-width="1.3" />
<text x="0" y="0" font-size="9.6" text-anchor="end" font-weight="bold" fill="#231f20" transform="translate(472.70 290.10) scale(1 1.12)" >1.0</text>
<line x1="473.20" y1="248.45" x2="479.30" y2="248.45" stroke="#231f20" stroke-width="1.3" />
<text x="0" y="0" font-size="9.6" text-anchor="end" font-weight="bold" fill="#231f20" transform="translate(472.70 252.05) scale(1 1.12)" >1.5</text>
<line x1="479.30" y1="378.00" x2="479.30" y2="383.20" stroke="#231f20" stroke-width="1.3" />
<text x="482.20" y="392.40" font-size="9.7" text-anchor="end" font-weight="bold" fill="#231f20" transform="rotate(-45 482.20 392.40)" >10<tspan font-size="7.0" dy="-3.2" dx="0.3">-5</tspan></text>
<line x1="511.80" y1="378.00" x2="511.80" y2="383.20" stroke="#231f20" stroke-width="1.3" />
<text x="514.70" y="392.40" font-size="9.7" text-anchor="end" font-weight="bold" fill="#231f20" transform="rotate(-45 514.70 392.40)" >10<tspan font-size="7.0" dy="-3.2" dx="0.3">-4</tspan></text>
<line x1="544.30" y1="378.00" x2="544.30" y2="383.20" stroke="#231f20" stroke-width="1.3" />
<text x="547.20" y="392.40" font-size="9.7" text-anchor="end" font-weight="bold" fill="#231f20" transform="rotate(-45 547.20 392.40)" >10<tspan font-size="7.0" dy="-3.2" dx="0.3">-3</tspan></text>
<line x1="576.80" y1="378.00" x2="576.80" y2="383.20" stroke="#231f20" stroke-width="1.3" />
<text x="579.70" y="392.40" font-size="9.7" text-anchor="end" font-weight="bold" fill="#231f20" transform="rotate(-45 579.70 392.40)" >10<tspan font-size="7.0" dy="-3.2" dx="0.3">-2</tspan></text>
<line x1="609.30" y1="378.00" x2="609.30" y2="383.20" stroke="#231f20" stroke-width="1.3" />
<text x="612.20" y="392.40" font-size="9.7" text-anchor="end" font-weight="bold" fill="#231f20" transform="rotate(-45 612.20 392.40)" >10<tspan font-size="7.0" dy="-3.2" dx="0.3">-1</tspan></text>
<line x1="641.80" y1="378.00" x2="641.80" y2="383.20" stroke="#231f20" stroke-width="1.3" />
<text x="644.70" y="392.40" font-size="9.7" text-anchor="end" font-weight="bold" fill="#231f20" transform="rotate(-45 644.70 392.40)" >10<tspan font-size="7.0" dy="-3.2" dx="0.3">0</tspan></text>
<line x1="674.30" y1="378.00" x2="674.30" y2="383.20" stroke="#231f20" stroke-width="1.3" />
<text x="677.20" y="392.40" font-size="9.7" text-anchor="end" font-weight="bold" fill="#231f20" transform="rotate(-45 677.20 392.40)" >10<tspan font-size="7.0" dy="-3.2" dx="0.3">1</tspan></text>
<text x="511.60" y="421.30" font-size="10.8" font-weight="bold" fill="#231f20" textLength="130.60" lengthAdjust="spacingAndGlyphs">Ligand Concentration (M)</text>
<text x="453.10" y="352.90" font-size="10.9" font-weight="bold" fill="#231f20" transform="rotate(-90 453.10 352.90)" textLength="80.60" lengthAdjust="spacingAndGlyphs">Fraction Bound</text>
<line x1="494.80" y1="362.80" x2="641.55" y2="362.80" stroke="#f6a5a5" stroke-width="2.0" />
<rect x="492.25" y="360.25" width="5.10" height="5.10" fill="#e8202a"/>
<rect x="502.04" y="360.25" width="5.10" height="5.10" fill="#e8202a"/>
<rect x="511.82" y="360.25" width="5.10" height="5.10" fill="#e8202a"/>
<rect x="521.60" y="360.25" width="5.10" height="5.10" fill="#e8202a"/>
<rect x="531.39" y="360.25" width="5.10" height="5.10" fill="#e8202a"/>
<rect x="541.17" y="360.25" width="5.10" height="5.10" fill="#e8202a"/>
<rect x="550.95" y="360.25" width="5.10" height="5.10" fill="#e8202a"/>
<rect x="560.74" y="360.25" width="5.10" height="5.10" fill="#e8202a"/>
<rect x="570.52" y="360.25" width="5.10" height="5.10" fill="#e8202a"/>
<rect x="580.30" y="360.25" width="5.10" height="5.10" fill="#e8202a"/>
<rect x="590.09" y="360.25" width="5.10" height="5.10" fill="#e8202a"/>
<rect x="599.87" y="360.25" width="5.10" height="5.10" fill="#e8202a"/>
<rect x="609.65" y="360.25" width="5.10" height="5.10" fill="#e8202a"/>
<rect x="619.44" y="360.25" width="5.10" height="5.10" fill="#e8202a"/>
<rect x="629.22" y="360.25" width="5.10" height="5.10" fill="#e8202a"/>
<rect x="639.00" y="360.25" width="5.10" height="5.10" fill="#e8202a"/>
<path d="M494.90,358.70 C496.90,358.62 503.08,358.38 506.90,358.20 C510.72,358.02 514.15,357.88 517.80,357.60 C521.45,357.32 525.15,356.95 528.80,356.50 C532.45,356.05 536.42,355.67 539.70,354.90 C542.98,354.13 545.93,353.07 548.50,351.90 C551.07,350.73 553.18,349.27 555.10,347.90 C557.02,346.53 557.92,345.65 560.00,343.70 C562.08,341.75 565.08,339.22 567.60,336.20 C570.12,333.18 572.60,329.50 575.10,325.60 C577.60,321.70 580.35,316.77 582.60,312.80 C584.85,308.83 586.85,304.63 588.60,301.80 C590.35,298.97 591.33,297.33 593.10,295.80 C594.87,294.27 597.22,293.30 599.20,292.60 C601.18,291.90 603.25,291.82 605.00,291.60 C606.75,291.38 605.28,291.35 609.70,291.30 C614.12,291.25 627.87,291.30 631.50,291.30" fill="none" stroke="#1d4ea5" stroke-width="1.0"/>
<circle cx="494.90" cy="362.80" r="2.5" fill="#1d4ea5" stroke="none" stroke-width="0"/>
<circle cx="504.70" cy="367.00" r="2.5" fill="#1d4ea5" stroke="none" stroke-width="0"/>
<circle cx="514.30" cy="359.30" r="2.5" fill="#1d4ea5" stroke="none" stroke-width="0"/>
<circle cx="524.20" cy="362.00" r="2.5" fill="#1d4ea5" stroke="none" stroke-width="0"/>
<circle cx="534.10" cy="349.70" r="2.5" fill="#1d4ea5" stroke="none" stroke-width="0"/>
<circle cx="543.80" cy="353.20" r="2.5" fill="#1d4ea5" stroke="none" stroke-width="0"/>
<circle cx="553.70" cy="344.30" r="2.5" fill="#1d4ea5" stroke="none" stroke-width="0"/>
<circle cx="563.40" cy="331.60" r="2.5" fill="#1d4ea5" stroke="none" stroke-width="0"/>
<circle cx="573.30" cy="322.60" r="2.5" fill="#1d4ea5" stroke="none" stroke-width="0"/>
<circle cx="583.10" cy="318.90" r="2.5" fill="#1d4ea5" stroke="none" stroke-width="0"/>
<circle cx="592.80" cy="302.30" r="2.5" fill="#1d4ea5" stroke="none" stroke-width="0"/>
<circle cx="602.60" cy="308.80" r="2.5" fill="#1d4ea5" stroke="none" stroke-width="0"/>
<circle cx="612.50" cy="291.40" r="2.5" fill="#1d4ea5" stroke="none" stroke-width="0"/>
<circle cx="622.20" cy="287.40" r="2.5" fill="#1d4ea5" stroke="none" stroke-width="0"/>
<circle cx="631.90" cy="274.60" r="2.5" fill="#1d4ea5" stroke="none" stroke-width="0"/>
<line x1="492.10" y1="230.70" x2="506.80" y2="230.70" stroke="#1d4ea5" stroke-width="1.3" />
<circle cx="499.50" cy="230.70" r="2.6" fill="#1d4ea5" stroke="none" stroke-width="0"/>
<text x="514.30" y="233.90" font-size="10.6" font-weight="normal" fill="#231f20" textLength="17.50" lengthAdjust="spacingAndGlyphs">WT</text>
<line x1="492.10" y1="247.90" x2="506.80" y2="247.90" stroke="#e8202a" stroke-width="1.3" />
<rect x="496.90" y="245.30" width="5.20" height="5.20" fill="#e8202a"/>
<text x="514.30" y="251.80" font-size="10.6" font-weight="normal" fill="#231f20" textLength="32.30" lengthAdjust="spacingAndGlyphs">control</text>
<text x="494.50" y="283.00" font-size="10.9" text-anchor="start" font-weight="normal" fill="#231f20" ><tspan font-style="italic">K</tspan><tspan font-size="7.4" dy="2">d</tspan><tspan dy="-2">=7.76 mM</tspan></text>
</svg>
</body></html>
